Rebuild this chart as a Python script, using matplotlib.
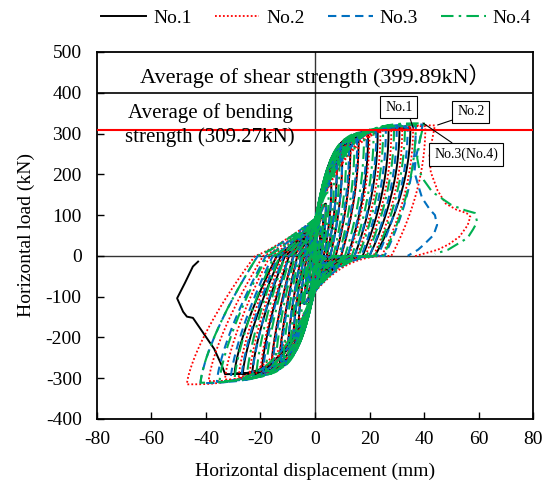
import numpy as np
import matplotlib
matplotlib.use("Agg")
import matplotlib.pyplot as plt
from matplotlib.lines import Line2D

plt.rcParams['font.family'] = ['Liberation Serif', 'DejaVu Serif']
plt.rcParams['axes.unicode_minus'] = False

# ---------------- data ----------------
labels = ['No.1', 'No.2', 'No.3', 'No.4']
shear_avg = 399.89
bend_avg = 309.27

# No.1 : half-cycle peaks (disp mm, load kN) and zero-load displacement after unloading
n1_pos_d = [1, 2, 3, 4, 6, 8, 10, 13, 16, 19.5, 23, 27, 31, 35]
n1_pos_P = [35, 70, 100, 128, 178, 218, 245, 272, 288, 298, 305, 309, 312, 314]
n1_pos_r = [0.5, 1, 1.5, 2.2, 3.2, 4.3, 5.6, 7.6, 9.6, 12, 14.5, 17.5, 20, 22]
n1_neg_d = [-1, -2, -3, -4, -6, -8, -10, -13, -16, -19.5, -23, -26.5, -29.5]
n1_neg_P = [-30, -62, -92, -118, -165, -205, -232, -258, -272, -282, -288, -291, -288]
n1_neg_r = [-0.5, -1, -1.5, -2, -3, -4, -5, -6.5, -8, -9.5, -11, -12.5, -14]
n1_tail_x = [-33, -34, -37, -44.8, -47, -48.4, -50.6, -47.7, -44.8, -42.9]
n1_tail_y = [-290, -272, -228, -152, -149, -137, -104, -66, -26, -14]

# No.2
n2_pos_d = [1, 2, 3, 4, 6, 8, 10, 13, 16, 20, 24, 28, 32, 36, 40.5]
n2_pos_P = [33, 66, 96, 124, 172, 214, 242, 270, 286, 298, 304, 308, 311, 314, 318]
n2_pos_r = [0.5, 1, 1.5, 2.2, 3.2, 4.3, 5.6, 7.6, 9.6, 12.5, 15.5, 18.5, 21.5, 24.5, 28]
n2_neg_d = [-1, -2, -3, -4, -6, -8, -10, -13, -16, -20, -24, -28, -33, -39, -47]
n2_neg_P = [-30, -60, -88, -115, -160, -200, -228, -255, -270, -284, -293, -299, -303, -307, -315]
n2_neg_r = [-0.5, -1, -1.5, -2, -3, -4, -5, -6.5, -8, -10, -12, -14, -16.5, -19, -22]
n2_tail_x = [44, 43, 42, 42.5, 45, 48, 52, 55.6, 57, 56, 53, 49, 45, 36]
n2_tail_y = [320, 285, 245, 205, 160, 128, 113, 105, 96, 75, 47, 28, 15, -2]

# No.3
n3_pos_d = [1, 2, 3, 4, 6, 8, 10, 12.5, 15.5, 19, 22.5, 26, 30, 34, 37]
n3_pos_P = [34, 68, 98, 126, 175, 216, 244, 268, 284, 296, 303, 308, 311, 315, 318]
n3_pos_r = [0.5, 1, 1.5, 2.2, 3.2, 4.3, 5.6, 7.3, 9.3, 12, 14.5, 17, 20, 23, 25.5]
n3_neg_d = [-1, -2, -3, -4, -6, -8, -10, -12.5, -15.5, -19, -23, -27, -31, -36, -42]
n3_neg_P = [-31, -62, -90, -117, -163, -203, -230, -254, -270, -284, -294, -300, -305, -309, -312]
n3_neg_r = [-0.5, -1, -1.5, -2, -3, -4, -5, -6.3, -7.8, -9.5, -11.5, -13.5, -15.5, -18, -21]
n3_tail_x = [39.5, 38.5, 37, 36.5, 38, 39.3, 42, 44, 44.8, 43.5, 40, 37.8, 34]
n3_tail_y = [322, 285, 240, 205, 170, 142, 115, 100, 76, 51, 28, 15, 0]

# No.4
n4_pos_d = [1, 2, 3, 4, 5, 7, 9, 11.5, 14.5, 18, 21.5, 25, 29, 33, 37]
n4_pos_P = [36, 72, 104, 132, 156, 200, 232, 262, 282, 296, 304, 309, 313, 318, 322]
n4_pos_r = [0.5, 1, 1.5, 2.2, 2.7, 3.8, 5, 6.7, 8.7, 11, 13.5, 16, 19, 22, 25]
n4_neg_d = [-1, -2, -3, -4, -5, -7, -9, -11.5, -14.5, -18, -21.5, -25, -29.5, -35, -42]
n4_neg_P = [-33, -65, -95, -122, -145, -188, -220, -248, -266, -282, -292, -298, -303, -307, -311]
n4_neg_r = [-0.5, -1, -1.5, -2, -2.5, -3.5, -4.5, -5.8, -7.3, -9, -11, -13, -15, -17.5, -21]
n4_tail_x = [40, 38.5, 37.5, 38.5, 40, 43, 50, 55, 58.7, 59.5, 58, 56, 52, 48.8, 44]
n4_tail_y = [325, 285, 240, 205, 185, 157, 125, 112, 105, 83, 65, 44, 28, 15, 5]

# peak annotations (label, peak point, box position)
ann_text = ['No.1', 'No.2', 'No.3(No.4)']
ann_xy = [(36, 314), (45, 321), (39.6, 326)]
ann_box = [(30.8, 365), (57.2, 353), (55.4, 248)]
ann_rel = [(0.85, 0.0), (0.0, 0.0), (0.4, 1.0)]

xticks = [-80, -60, -40, -20, 0, 20, 40, 60, 80]
yticks = [-400, -300, -200, -100, 0, 100, 200, 300, 400, 500]


# ---------------- loop construction through the read key points ----------------
def loading(x0, y0, d, P, n=60):
    if d > 0:
        a = min(3.5, 1.5 + 0.1 * d)
    else:
        a = min(3.0, 1.5 + 0.08 * abs(d))
    t = np.linspace(0, 1, n)
    return x0 + (d - x0) * t, y0 + (P - y0) * (1 - (1 - t) ** a)


def unloading(d, P, r, e, n=40):
    s = np.linspace(0, 1, n)
    return d - (d - r) * s ** e, P * (1 - s)


def pinch(r, x1, y1, c, n=40):
    t = np.linspace(0, 1, n)
    return r + (x1 - r) * t, y1 * t ** c


def build(pos_d, pos_P, pos_r, neg_d, neg_P, neg_r, tail_x, tail_y):
    halves = []
    for i in range(max(len(pos_d), len(neg_d))):
        if i < len(pos_d):
            halves.append((pos_d[i], pos_P[i], pos_r[i]))
        if i < len(neg_d):
            halves.append((neg_d[i], neg_P[i], neg_r[i]))
    xs, ys = [np.array([0.0])], [np.array([0.0])]
    x0, y0 = 0.0, 0.0
    for j, (d, P, r) in enumerate(halves):
        lx, ly = loading(x0, y0, d, P)
        ux, uy = unloading(d, P, r, 2.0 if d > 0 else 1.4)
        Pn = halves[j + 1][1] if j + 1 < len(halves) else tail_y[0]
        x1, y1 = 0.0, 0.28 * Pn
        px, py = pinch(r, x1, y1, 2.5 if d > 0 else 1.2)
        xs += [lx, ux, px]
        ys += [ly, uy, py]
        x0, y0 = x1, y1
    lx, ly = loading(x0, y0, tail_x[0], tail_y[0])
    xs += [lx, np.array(tail_x, float)]
    ys += [ly, np.array(tail_y, float)]
    return np.concatenate(xs), np.concatenate(ys)


specimens = [
    (n1_pos_d, n1_pos_P, n1_pos_r, n1_neg_d, n1_neg_P, n1_neg_r, n1_tail_x, n1_tail_y),
    (n2_pos_d, n2_pos_P, n2_pos_r, n2_neg_d, n2_neg_P, n2_neg_r, n2_tail_x, n2_tail_y),
    (n3_pos_d, n3_pos_P, n3_pos_r, n3_neg_d, n3_neg_P, n3_neg_r, n3_tail_x, n3_tail_y),
    (n4_pos_d, n4_pos_P, n4_pos_r, n4_neg_d, n4_neg_P, n4_neg_r, n4_tail_x, n4_tail_y),
]
colors = ['black', '#FF0000', '#0070C0', '#00B050']
styles = ['-', (0, (1, 1.2)), (0, (4, 2.5)), (0, (6, 2.5, 1.2, 2.5))]
widths = [1.4, 1.3, 1.5, 1.5]

# ---------------- figure ----------------
fig = plt.figure(figsize=(5.52, 4.84), dpi=100)
ax = fig.add_axes([0.1757, 0.1343, 0.7899, 0.7583])

ax.axhline(0, color='#333333', lw=1.0, zorder=1)
ax.axvline(0, color='#333333', lw=1.0, zorder=1)

handles = []
for spec, c, ls, lw, lab in zip(specimens, colors, styles, widths, labels):
    x, y = build(*spec)
    ax.plot(x, y, color=c, ls=ls, lw=lw, zorder=2, label=lab)
    handles.append(Line2D([], [], color=c, ls=ls, lw=lw))

ax.axhline(shear_avg, color='black', lw=1.2, zorder=3)
ax.axhline(bend_avg, color='#FF0000', lw=1.5, zorder=4)

ax.text(0, 442, 'Average of shear strength (399.89kN\uff09', ha='center', va='center',
        fontsize=16, family=['Liberation Serif', 'Noto Sans CJK JP'], zorder=5)
ax.text(-38.5, 320, 'Average of bending\nstrength (309.27kN)', ha='center', va='center',
        fontsize=15, linespacing=1.3, zorder=5)

for t, xy, xyt, rp in zip(ann_text, ann_xy, ann_box, ann_rel):
    ax.annotate(t, xy=xy, xytext=xyt, fontsize=10, ha='center', va='center', zorder=6,
                bbox=dict(boxstyle='square,pad=0.35', fc='white', ec='black', lw=0.8),
                arrowprops=dict(arrowstyle='-', color='black', lw=0.8, relpos=rp,
                                shrinkA=0, shrinkB=0))

ax.set_xlim(-80, 80)
ax.set_ylim(-400, 500)
ax.set_xticks(xticks)
ax.set_yticks(yticks)
ax.tick_params(direction='in', length=5, width=1, labelsize=14, top=False, right=False)
ax.tick_params(axis='y', pad=11)
ax.tick_params(axis='x', pad=9)
for s in ax.spines.values():
    s.set_linewidth(1.3)
ax.set_xlabel('Horizontal displacement (mm)', fontsize=14, labelpad=10)
ax.set_ylabel('Horizontal load (kN)', fontsize=14, labelpad=8)

fig.legend(handles, labels, loc='center', bbox_to_anchor=(0.573, 0.963), ncol=4,
           frameon=False, fontsize=14, handlelength=2.3, handletextpad=0.35,
           columnspacing=1.2, borderaxespad=0)

fig.savefig('out.png', dpi=100)
